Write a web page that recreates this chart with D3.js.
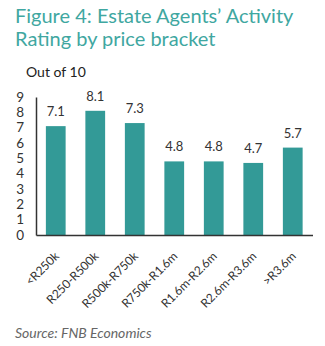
<!DOCTYPE html>
<html><head><meta charset="utf-8">
<script src="https://cdn.jsdelivr.net/npm/d3@7"></script>
<style>body{margin:0;background:#fff}</style>
</head><body>
<script>
const categories = ["<R250k","R250-R500k","R500k-R750k","R750k-R1.6m","R1.6m-R2.6m","R2.6m-R3.6m",">R3.6m"];
const values = [7.1, 8.1, 7.3, 4.8, 4.8, 4.7, 5.7];
const yTicks = [0,1,2,3,4,5,6,7,8,9];
const titleLines = ["Figure 4: Estate Agents\u2019 Activity","Rating by price bracket"];

const W = 325, H = 346;
const svg = d3.select("body").append("svg").attr("width", W).attr("height", H);
const font = "Lato, sans-serif";
const teal = "#339a97";

svg.selectAll("text.title").data(titleLines).join("text")
  .attr("x", 15).attr("y", (d,i) => 23 + i*23)
  .attr("font-family", font).attr("font-size", 20).attr("fill", "#3fa7a1")
  .text(d => d);

svg.append("text").attr("x", 26).attr("y", 77)
  .attr("font-family", font).attr("font-size", 14).attr("fill", "#222")
  .text("Out of 10");

const x = d3.scaleBand().domain(categories).range([36, 312.5]).paddingInner(0.5).paddingOuter(0.25);
const y = d3.scaleLinear().domain([0, 9]).range([235, 97]);

svg.selectAll("rect.bar").data(values).join("rect")
  .attr("x", (d,i) => x(categories[i])).attr("width", x.bandwidth())
  .attr("y", d => y(d)).attr("height", d => y(0) - y(d))
  .attr("fill", teal);

svg.selectAll("text.val").data(values).join("text")
  .attr("x", (d,i) => x(categories[i]) + x.bandwidth()/2)
  .attr("y", d => y(d) - 10)
  .attr("text-anchor", "middle")
  .attr("font-family", font).attr("font-size", 13).attr("fill", "#333")
  .text(d => d.toFixed(1));

const yAxis = svg.append("g").attr("transform", "translate(36,0)")
  .call(d3.axisLeft(y).tickValues(yTicks).tickSize(0).tickPadding(12).tickFormat(d3.format("d")));
yAxis.select(".domain").attr("stroke", "#333").attr("stroke-width", 1.5);
yAxis.selectAll("text").attr("font-family", font).attr("font-size", 13.5).attr("fill", "#333");

const xAxis = svg.append("g").attr("transform", "translate(0,235)")
  .call(d3.axisBottom(x).tickSize(0).tickPadding(0));
xAxis.select(".domain").attr("stroke", "#333").attr("stroke-width", 1.5);
xAxis.selectAll("text")
  .attr("font-family", font).attr("font-size", 12).attr("fill", "#333")
  .attr("text-anchor", "end").attr("dy", 0).attr("y", 0)
  .attr("transform", "translate(4,22) rotate(-45)");

svg.append("text").attr("x", 15).attr("y", 338)
  .attr("font-family", font).attr("font-size", 14).attr("font-style", "italic").attr("fill", "#666")
  .text("Source: FNB Economics");
</script>
</body></html>
